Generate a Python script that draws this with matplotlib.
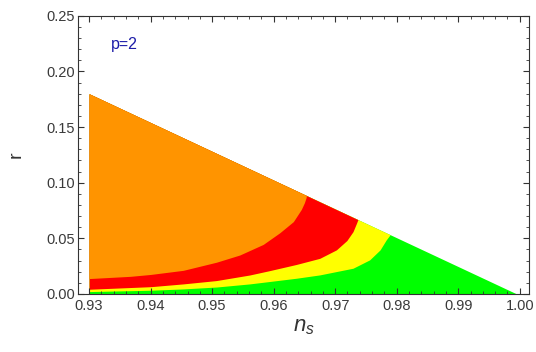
import numpy as np
import matplotlib
matplotlib.use("Agg")
from matplotlib import pyplot as plt

plt.rcParams["font.family"] = ["Liberation Sans", "DejaVu Sans"]
plt.rcParams["mathtext.fontset"] = "custom"
plt.rcParams["mathtext.it"] = "Liberation Sans:italic"
plt.rcParams["mathtext.rm"] = "Liberation Sans"

# edge of the allowed region (straight line)
edge_ns = [0.93, 0.9995]
edge_r = [0.18, 0.0]

# orange / red boundary
ns_or = [0.930, 0.9367, 0.940, 0.9453, 0.9507, 0.9545, 0.9583, 0.9610, 0.9632, 0.9645, 0.9650, 0.9653]
r_or = [0.0138, 0.0158, 0.0175, 0.0212, 0.0285, 0.0350, 0.0445, 0.0550, 0.0650, 0.0760, 0.0820, 0.0870]

# red / yellow boundary
ns_ry = [0.930, 0.940, 0.9453, 0.9507, 0.9561, 0.9594, 0.9637, 0.9675, 0.9702, 0.9719, 0.9729, 0.9735, 0.9737]
r_ry = [0.0042, 0.0065, 0.0090, 0.0120, 0.0170, 0.0210, 0.0265, 0.0320, 0.0396, 0.0480, 0.0560, 0.0640, 0.0670]

# yellow / green boundary
ns_yg = [0.930, 0.940, 0.9453, 0.9507, 0.9561, 0.9594, 0.9637, 0.9675, 0.9729, 0.9756, 0.9773, 0.9783, 0.9789]
r_yg = [0.0021, 0.0033, 0.0045, 0.0062, 0.0090, 0.0112, 0.0141, 0.0171, 0.0231, 0.0306, 0.0396, 0.0486, 0.0530]

def edge(x):
    return np.interp(x, edge_ns, edge_r)

fig = plt.figure(figsize=(5.36, 3.52), dpi=100)
ax = fig.add_axes([0.1455, 0.165, 0.8414, 0.79])

ax.fill_between(edge_ns, 0, edge_r, color="#00ff00", lw=0)
ax.fill_between(ns_yg, r_yg, edge(ns_yg), color="#ffff00", lw=0)
ax.fill_between(ns_ry, r_ry, edge(ns_ry), color="#ff0000", lw=0)
ax.fill_between(ns_or, r_or, edge(ns_or), color="#ff9400", lw=0)

ax.text(0.9357, 0.224, "p=2", color="#1c1ca8", fontsize=11.5, ha="center", va="center")

ax.set_xlim(0.9282, 1.0015)
ax.set_ylim(0.0, 0.25)
ax.set_xticks(np.arange(0.93, 1.001, 0.01))
ax.set_xticks(np.arange(0.93, 1.001, 0.002), minor=True)
ax.set_yticks(np.arange(0.0, 0.251, 0.05))
ax.set_yticks(np.arange(0.0, 0.251, 0.01), minor=True)
ax.xaxis.set_major_formatter(matplotlib.ticker.FormatStrFormatter("%.2f"))
ax.yaxis.set_major_formatter(matplotlib.ticker.FormatStrFormatter("%.2f"))
ax.tick_params(which="both", direction="in", top=True, right=True, colors="#333333",
               labelsize=10.5, labelcolor="#3a3a3a")
ax.tick_params(axis="x", pad=4)
ax.tick_params(axis="y", pad=2)
ax.tick_params(which="major", length=4)
ax.tick_params(which="minor", length=2)
for s in ax.spines.values():
    s.set_color("#333333")

ax.set_xlabel(r"$n_s$", fontsize=16, color="#333333", labelpad=2)
ax.set_ylabel("r", fontsize=14, color="#333333", labelpad=16, rotation=90)

plt.savefig("out.png", dpi=100)
